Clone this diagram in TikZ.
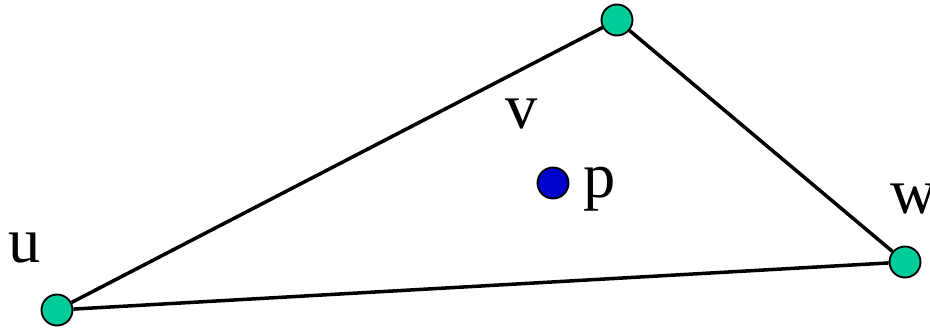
\documentclass[tikz,border=0pt]{standalone}
\usepackage{fontspec}
\setmainfont{Liberation Serif}
\definecolor{vertgreen}{RGB}{0,204,153}
\definecolor{pointblue}{RGB}{0,0,204}
\usetikzlibrary{positioning}

\tikzset{
    vertex/.style={circle, draw=black, line width=1.6pt, inner sep=0pt, minimum size=0.93cm},
    lbl/.style={anchor=base, inner sep=0pt, font=\fontsize{55}{60}\selectfont}
}

\begin{document}
\begin{tikzpicture}[x=0.03cm, y=-0.03cm]
    \useasboundingbox (0, 0) rectangle (930, 329);
    \node[vertex, fill=vertgreen] (u) at (57, 310) {};
    \node[vertex, fill=vertgreen] (v) at (617, 20) {};
    \node[vertex, fill=vertgreen] (w) at (905, 262) {};
    \node[vertex, fill=pointblue] (p) at (553, 183) {};
    \draw[line width=3pt] (u) -- (v) -- (w) -- (u);
    \node[lbl] (ulbl) at (25, 262) {u};
    \node[lbl] (vlbl) at (522, 128) {v};
    \node[lbl] (plbl) at (600, 197) {p};
    \node[lbl, anchor=base west] (wlbl) at (890, 213) {w};
\end{tikzpicture}
\end{document}
